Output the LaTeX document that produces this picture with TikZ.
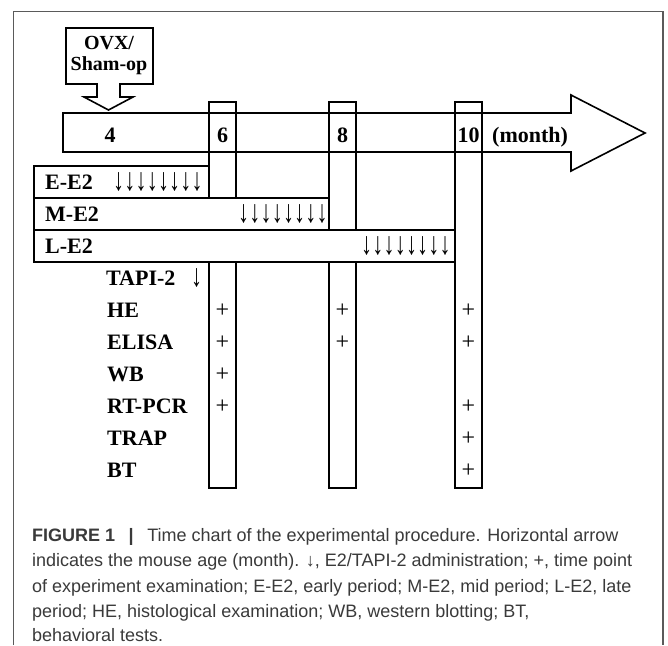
\documentclass[tikz,border=0pt]{standalone}
\usepackage{graphicx}
\usepackage{fontspec}
\setmainfont{Liberation Serif}
\newfontfamily\capfont{Liberation Sans}
\definecolor{framegray}{HTML}{5A5A5A}
\definecolor{capgray}{HTML}{3A3A3A}
\newcommand\onedown{\scalebox{1}[1.45]{↓}}
\newcommand\eightdown{\onedown\kern0.2pt\onedown\kern0.2pt\onedown\kern0.2pt\onedown\kern0.2pt\onedown\kern0.2pt\onedown\kern0.2pt\onedown\kern0.2pt\onedown}
\begin{document}
\begin{tikzpicture}[x=1pt,y=-1pt,
  shapeline/.style={draw=black,line width=1.6pt,line join=miter},
  lbl/.style={inner sep=0pt,font=\fontsize{22}{22}\selectfont\bfseries,anchor=base west},
  num/.style={inner sep=0pt,font=\fontsize{22}{22}\selectfont\bfseries,anchor=base},
  plussign/.style={inner sep=0pt,font=\fontsize{24}{24}\selectfont,anchor=base},
  darr/.style={inner sep=0pt,font=\fontsize{22}{22}\selectfont,anchor=base west},
  captxt/.style={inner sep=0pt,anchor=base west,font=\capfont\fontsize{18}{18}\selectfont,text=capgray}]
\useasboundingbox (0,0) rectangle (668,645);
\fill[white] (0,0) rectangle (668,645);
% frame
\draw[framegray,line width=1.2pt] (13.5,645) -- (13.5,11.5) -- (663,11.5) -- (663,645);
% main time arrow
\draw[shapeline,fill=white] (63,113) -- (571,113) -- (571,95) -- (645,133) -- (571,171) -- (571,152) -- (63,152) -- cycle;
% OVX arrow
\draw[shapeline,fill=white] (66,28) -- (153,28) -- (153,84) -- (120,84) -- (120,97) -- (133,97) -- (108.5,110) -- (84,97) -- (97,97) -- (97,84) -- (66,84) -- cycle;
\node[inner sep=0pt,align=center,font=\fontsize{20}{21}\selectfont\bfseries] (ovx) at (109,56) {OVX/\\Sham-op};
% bars
\draw[shapeline] (209,102) rectangle (236,488);
\draw[shapeline] (329,102) rectangle (356,488);
\draw[shapeline] (455,102) rectangle (482,488);
% period boxes
\draw[shapeline,fill=white] (34,166) rectangle (209,198);
\draw[shapeline,fill=white] (34,198) rectangle (329,230);
\draw[shapeline,fill=white] (34,230) rectangle (455,262);
% month labels
\node[num] (m4) at (110,142) {4};
\node[num] (m6) at (222.5,142) {6};
\node[num] (m8) at (342.5,142) {8};
\node[num] (m10) at (468.5,142) {10};
\node[lbl] (month) at (492,142) {(month)};
% period labels
\node[lbl] (ee2) at (45,189) {E-E2};
\node[darr] (ee2a) at (113,190) {\eightdown};
\node[lbl] (me2) at (45,221) {M-E2};
\node[darr] (me2a) at (238,222) {\eightdown};
\node[lbl] (le2) at (45,253) {L-E2};
\node[darr] (le2a) at (361,254) {\eightdown};
\node[lbl] (tapi) at (106,285) {TAPI-2};
\node[darr] (tapia) at (191,286) {\onedown};
% examinations
\node[lbl] (he) at (107,317) {HE};
\node[lbl] (elisa) at (107,349) {ELISA};
\node[lbl] (wb) at (107,381) {WB};
\node[lbl] (rtpcr) at (107,413) {RT-PCR};
\node[lbl] (trap) at (107,445) {TRAP};
\node[lbl] (bt) at (107,477) {BT};
% plus signs
\node[plussign] (p1) at (222.5,317) {+};
\node[plussign] (p2) at (342.5,317) {+};
\node[plussign] (p3) at (468.5,317) {+};
\node[plussign] (p4) at (222.5,349) {+};
\node[plussign] (p5) at (342.5,349) {+};
\node[plussign] (p6) at (468.5,349) {+};
\node[plussign] (p7) at (222.5,381) {+};
\node[plussign] (p8) at (222.5,413) {+};
\node[plussign] (p9) at (468.5,413) {+};
\node[plussign] (p10) at (468.5,445) {+};
\node[plussign] (p11) at (468.5,477) {+};
% caption
\node[captxt] (c1) at (32,541) {\textbf{FIGURE 1}\hspace{0.75em}\textbf{|}\hspace{0.75em}Time chart of the experimental procedure. Horizontal arrow};
\node[captxt] (c2) at (32,566.5) {indicates the mouse age (month). ↓, E2/TAPI-2 administration; +, time point};
\node[captxt] (c3) at (32,592) {of experiment examination; E-E2, early period; M-E2, mid period; L-E2, late};
\node[captxt] (c4) at (32,617) {period; HE, histological examination; WB, western blotting; BT,};
\node[captxt] (c5) at (32,641) {behavioral tests.};
\end{tikzpicture}
\end{document}
